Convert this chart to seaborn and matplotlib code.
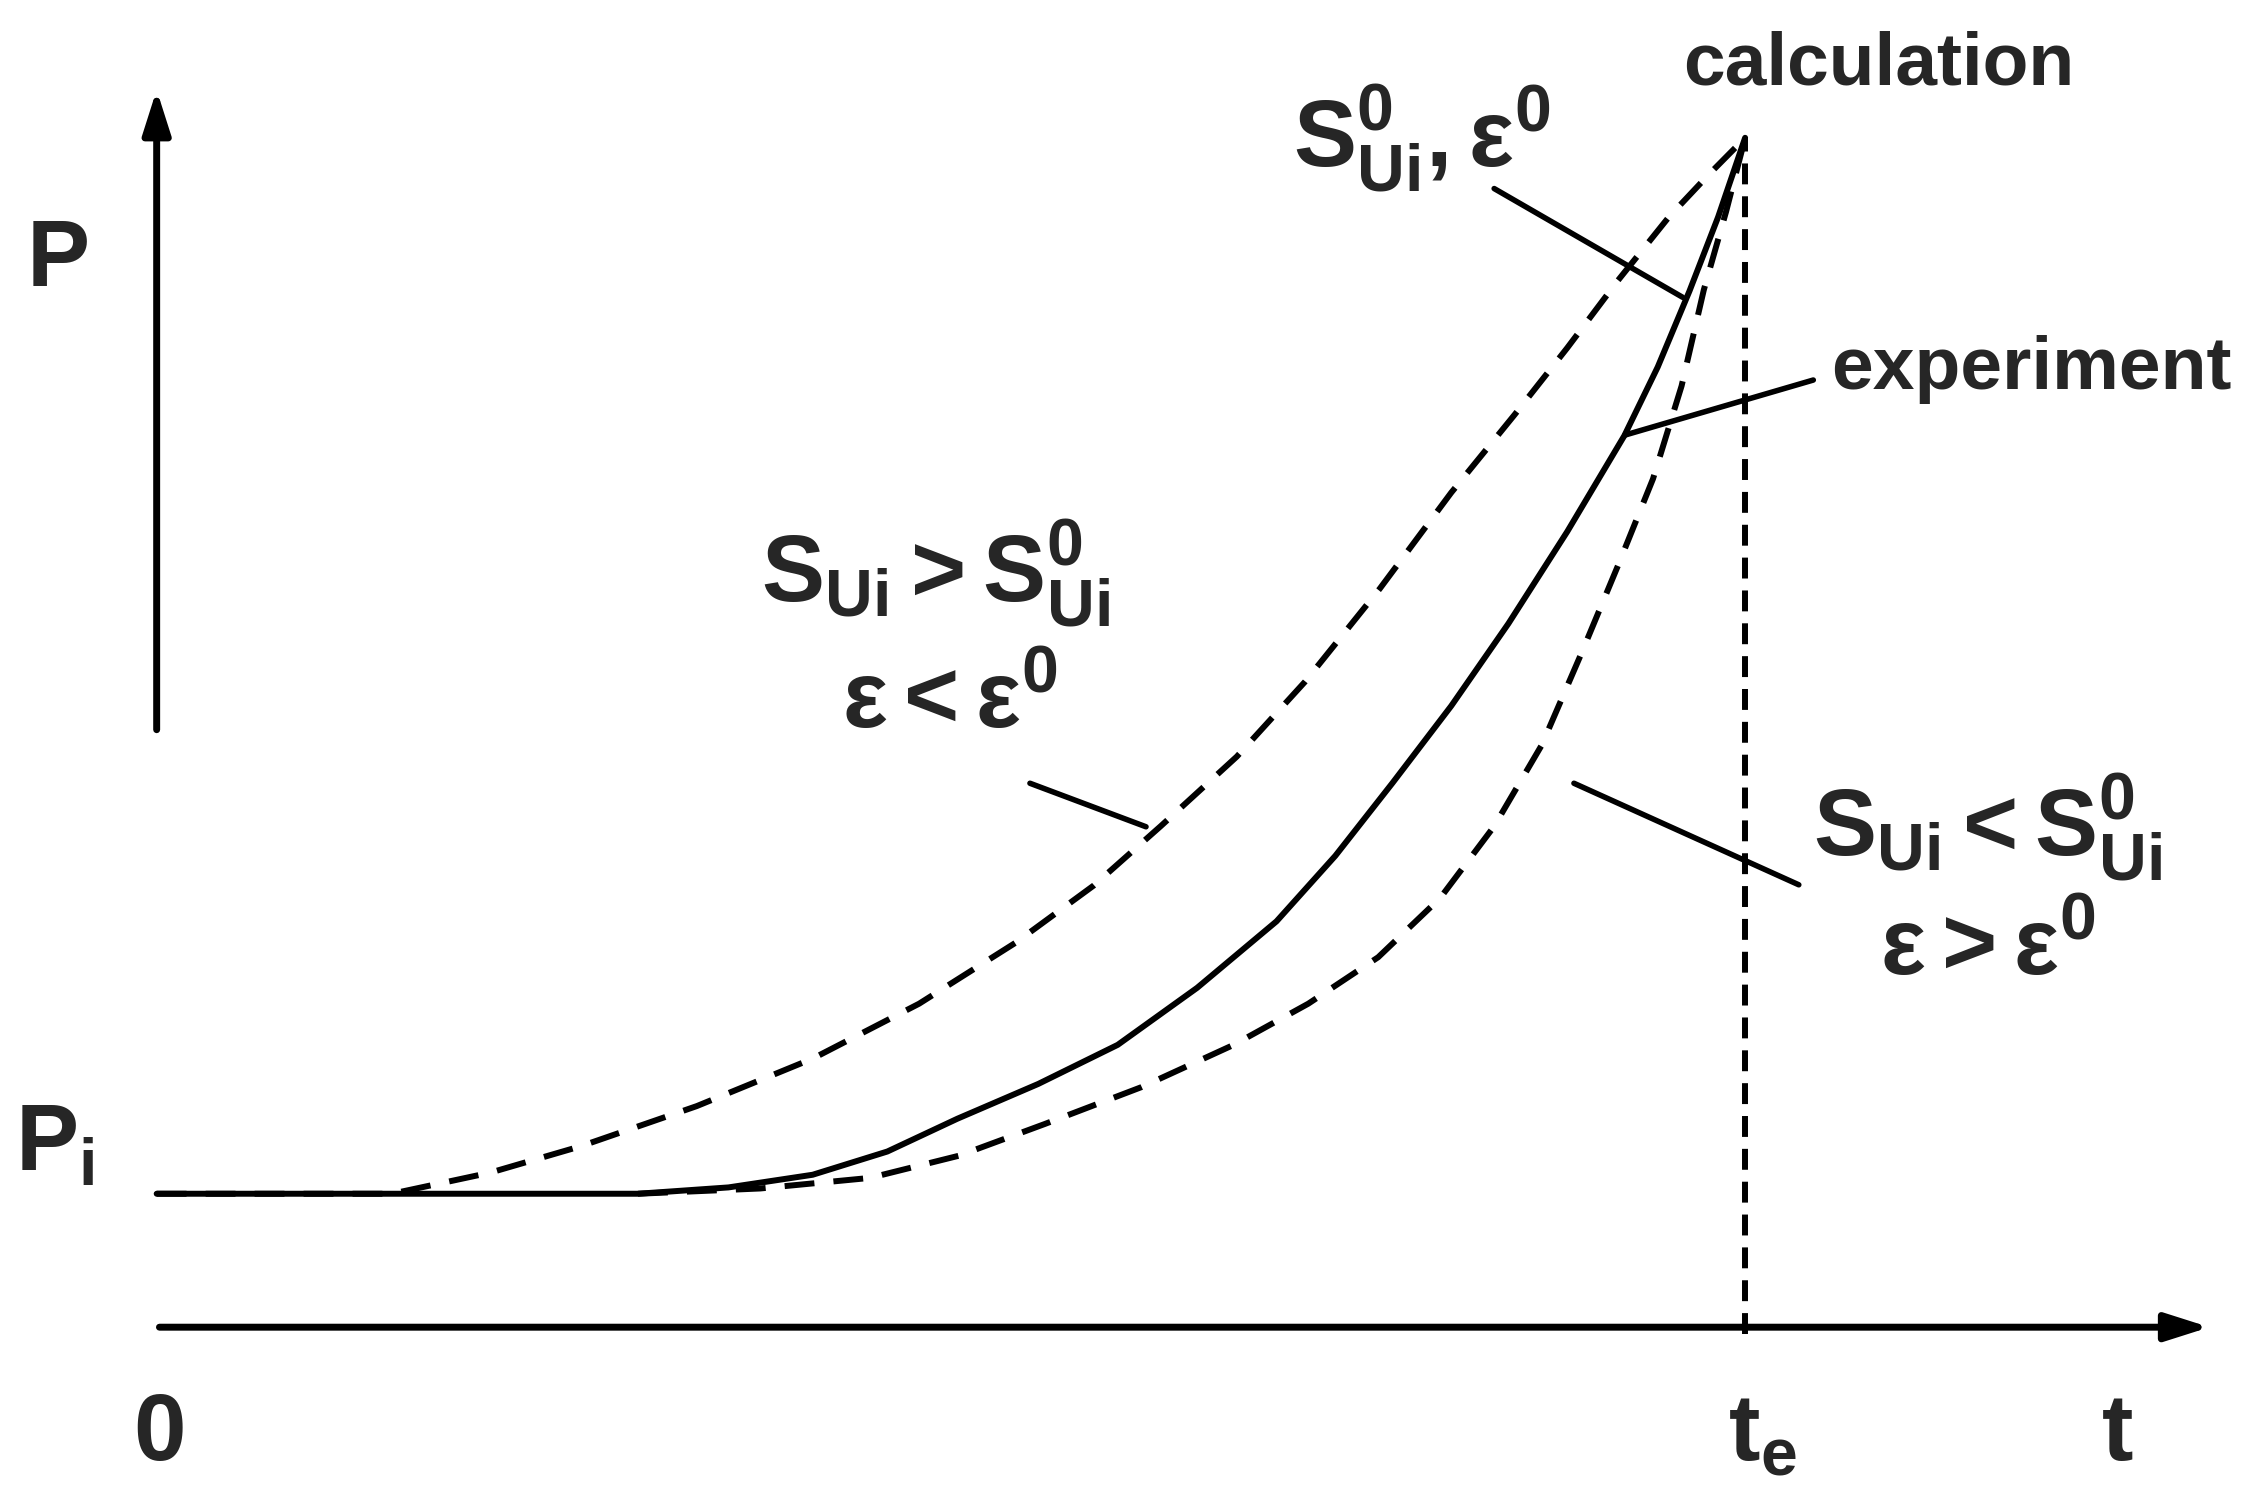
import matplotlib
matplotlib.use("Agg")
import matplotlib.pyplot as plt
import seaborn as sns

sns.set_theme(style="white")
plt.rcParams['font.family'] = ['Liberation Sans', 'DejaVu Sans']
plt.rcParams['mathtext.fontset'] = 'custom'
plt.rcParams['mathtext.rm'] = 'Liberation Sans:bold'
plt.rcParams['mathtext.bf'] = 'Liberation Sans:bold'
plt.rcParams['mathtext.it'] = 'Liberation Sans:bold'

# normalised time (te = 1) and pressure (Pi = 0, peak = 1)
t_exp = [0, 0.303, 0.360, 0.413, 0.460, 0.504, 0.555, 0.605, 0.655, 0.705,
         0.742, 0.778, 0.815, 0.851, 0.888, 0.924, 0.945, 0.965, 0.983, 1.0]
p_exp = [0, 0.0, 0.006, 0.018, 0.040, 0.071, 0.104, 0.141, 0.195, 0.258,
         0.320, 0.389, 0.462, 0.540, 0.627, 0.718, 0.783, 0.855, 0.925, 1.0]
t_up = [0, 0.148, 0.210, 0.267, 0.340, 0.413, 0.480, 0.541, 0.590, 0.632,
        0.680, 0.723, 0.770, 0.815, 0.855, 0.888, 0.920, 0.952, 0.977, 1.0]
p_up = [0, 0.0, 0.020, 0.045, 0.083, 0.128, 0.180, 0.238, 0.292, 0.348,
        0.414, 0.485, 0.573, 0.664, 0.738, 0.801, 0.865, 0.925, 0.965, 1.0]
t_low = [0.303, 0.380, 0.449, 0.505, 0.559, 0.620, 0.678, 0.725, 0.769, 0.808,
         0.842, 0.872, 0.897, 0.920, 0.942, 0.960, 0.974, 0.988, 1.0]
p_low = [0.0, 0.005, 0.015, 0.036, 0.066, 0.101, 0.141, 0.180, 0.224, 0.280,
         0.348, 0.425, 0.512, 0.595, 0.677, 0.765, 0.856, 0.930, 1.0]

W, H = 1560, 1030
def px(x, y):
    return ((x - 108) / 1095, (823 - y) / 728)

fig = plt.figure(figsize=(22.63, 14.94), dpi=100)
ax = fig.add_axes([0, 0, 1, 1])
x0, y0 = px(0, H)
x1, y1 = px(W, 0)
ax.set_xlim(x0, x1)
ax.set_ylim(y0, y1)
ax.axis('off')

lw = 4.3
dash = (0, (5, 3.2))
sns.lineplot(x=t_exp, y=p_exp, ax=ax, color='black', lw=lw, sort=False)
sns.lineplot(x=t_up, y=p_up, ax=ax, color='black', lw=lw, sort=False, linestyle=dash)
sns.lineplot(x=t_low, y=p_low, ax=ax, color='black', lw=lw, sort=False, linestyle=dash)
ax.plot([1, 1], [px(0, 920)[1], 1], color='black', lw=lw, linestyle=(0, (3.5, 2)))

# axes arrows
ax.annotate('', xy=px(1525, 915), xytext=px(108, 915),
            arrowprops=dict(arrowstyle='-|>,head_length=2.2,head_width=0.7', lw=5, color='black'))
ax.annotate('', xy=px(108, 60), xytext=px(108, 505),
            arrowprops=dict(arrowstyle='-|>,head_length=2.2,head_width=0.7', lw=5, color='black'))

# leader lines
for a, b in [((1030, 130), (1160, 205)), ((1120, 300), (1250, 262)),
             ((710, 540), (790, 570)), ((1085, 540), (1240, 610))]:
    pa, pb = px(*a), px(*b)
    ax.plot([pa[0], pb[0]], [pa[1], pb[1]], color='black', lw=4)

fs = 54
big = 68
kw = dict(ha='center', va='center', fontweight='bold')
ax.text(*px(40, 180), 'P', fontsize=big, **kw)
ax.text(*px(38, 790), r'$\mathbf{P_i}$', fontsize=big, **kw)
ax.text(*px(110, 990), '0', fontsize=big, **kw)
ax.text(*px(1215, 990), r'$\mathbf{t_e}$', fontsize=big, **kw)
ax.text(*px(1460, 990), 't', fontsize=big, **kw)
ax.text(*px(1295, 45), 'calculation', fontsize=fs, **kw)
ax.text(*px(1400, 255), 'experiment', fontsize=fs, **kw)
ax.text(*px(980, 95), r'$\mathbf{S_{Ui}^{0}, \varepsilon^{0}}$', fontsize=big, **kw)
ax.text(*px(645, 395), r'$\mathbf{S_{Ui} > S_{Ui}^{0}}$', fontsize=big, **kw)
ax.text(*px(655, 485), r'$\mathbf{\varepsilon < \varepsilon^{0}}$', fontsize=big, **kw)
ax.text(*px(1370, 570), r'$\mathbf{S_{Ui} < S_{Ui}^{0}}$', fontsize=big, **kw)
ax.text(*px(1370, 655), r'$\mathbf{\varepsilon > \varepsilon^{0}}$', fontsize=big, **kw)

fig.savefig('out.png', dpi=100, facecolor='white')
